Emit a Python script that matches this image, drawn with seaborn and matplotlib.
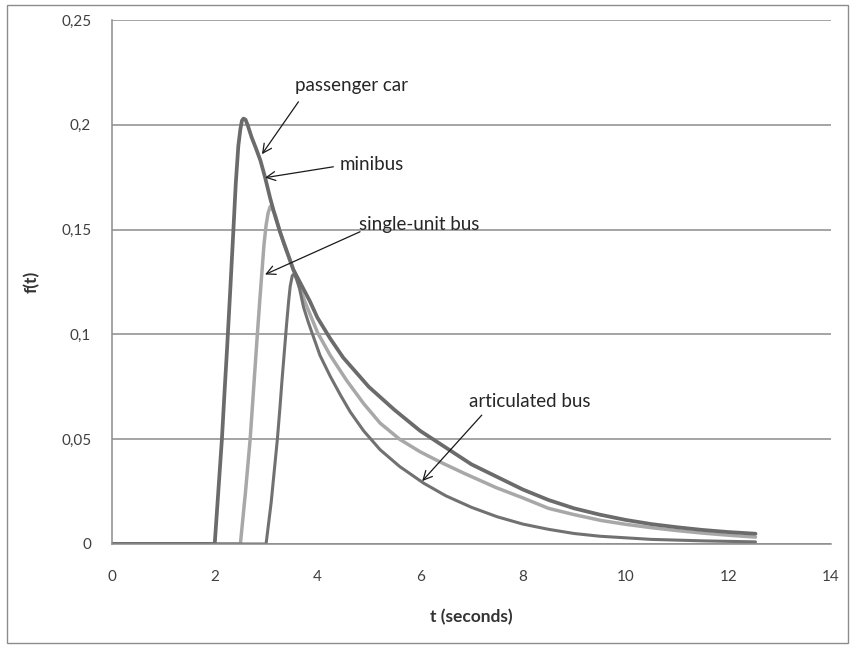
import numpy as np
import pandas as pd
import seaborn as sns
import matplotlib.pyplot as plt
from matplotlib.patches import Rectangle

# Datos (t en segundos, f(t))
t_car = [0, 2.0, 2.07, 2.14, 2.19, 2.24, 2.30, 2.36, 2.41, 2.46, 2.50, 2.53, 2.56, 2.60, 2.64,
         2.68, 2.72, 2.80, 2.89, 2.98, 3.08, 3.17, 3.27, 3.40, 3.53, 3.70, 3.85, 4.0, 4.25,
         4.5, 4.75, 5.0, 5.5, 6.0, 6.5, 7.0, 7.5, 8.0, 8.5, 9.0, 9.5, 10.0, 10.5, 11.0,
         11.5, 12.0, 12.53]
f_car = [0, 0, 0.025, 0.05, 0.072, 0.093, 0.12, 0.148, 0.172, 0.190, 0.198, 0.202, 0.203, 0.2025, 0.200,
         0.197, 0.194, 0.189, 0.183, 0.175, 0.165, 0.157, 0.149, 0.140, 0.131, 0.123, 0.116, 0.108, 0.098,
         0.089, 0.082, 0.075, 0.064, 0.054, 0.046, 0.038, 0.032, 0.026, 0.021, 0.017, 0.014, 0.0115, 0.0095, 0.008,
         0.0067, 0.0057, 0.0049]

t_single = [0, 2.5, 2.6, 2.69, 2.76, 2.83, 2.88, 2.92, 2.96, 3.0, 3.04, 3.08, 3.12, 3.18, 3.26,
            3.35, 3.44, 3.53, 3.75, 4.0, 4.25, 4.57, 4.9, 5.22, 5.6, 6.0, 6.4, 6.85, 7.48,
            8.0, 8.5, 9.0, 9.53, 10.0, 10.5, 11.0, 11.5, 12.0, 12.53]
f_single = [0, 0, 0.025, 0.05, 0.075, 0.1, 0.117, 0.13, 0.143, 0.152, 0.158, 0.161, 0.160, 0.157, 0.150,
            0.143, 0.137, 0.131, 0.116, 0.101, 0.090, 0.078, 0.067, 0.0577, 0.050, 0.044, 0.039, 0.0338, 0.0269,
            0.022, 0.017, 0.014, 0.0112, 0.0094, 0.0078, 0.0064, 0.0052, 0.0042, 0.0033]

t_artic = [0, 3.0, 3.1, 3.16, 3.22, 3.27, 3.31, 3.36, 3.40, 3.44, 3.47, 3.51, 3.55, 3.60, 3.65,
           3.73, 3.82, 3.92, 4.05, 4.25, 4.45, 4.64, 4.9, 5.22, 5.6, 6.07, 6.5, 7.0, 7.5,
           8.0, 8.5, 9.0, 9.5, 10.5, 11.5, 12.53]
f_artic = [0, 0, 0.02, 0.035, 0.05, 0.065, 0.078, 0.093, 0.105, 0.116, 0.123, 0.128, 0.129, 0.126, 0.122,
           0.113, 0.106, 0.099, 0.090, 0.080, 0.071, 0.063, 0.054, 0.045, 0.037, 0.029, 0.023, 0.0175, 0.013,
           0.0095, 0.007, 0.005, 0.0037, 0.0022, 0.0015, 0.001]

yticks = [0, 0.05, 0.1, 0.15, 0.2, 0.25]
ytick_labels = ['0', '0,05', '0,1', '0,15', '0,2', '0,25']
xticks = [0, 2, 4, 6, 8, 10, 12, 14]

# etiquetas: texto, posicion del texto, punta de la flecha, inicio de la flecha
notas = [
    ('passenger car', (3.57, 0.2186), (2.92, 0.186), (3.63, 0.211)),
    ('minibus', (4.44, 0.181), (2.98, 0.1748), (4.31, 0.180)),
    ('single-unit bus', (4.80, 0.1525), (2.98, 0.1286), (4.83, 0.149)),
    ('articulated bus', (6.96, 0.0678), (6.04, 0.030), (7.2, 0.0615)),
]

sns.set_style('white')
plt.rcParams['font.family'] = ['Lato', 'DejaVu Sans']

fig = plt.figure(figsize=(8.53, 6.48), dpi=100)
ax = fig.add_axes([0.1313, 0.1605, 0.8429, 0.8085])

series = [
    (t_single, f_single, '#a8a8a8', 2.5),
    (t_artic, f_artic, '#717171', 2.2),
    (t_car, f_car, '#6b6b6b', 2.7),
]
for t, f, color, lw in series:
    sns.lineplot(ax=ax, x=t, y=f, color=color, linewidth=lw, sort=False,
                 solid_capstyle='round', solid_joinstyle='round')

ax.set_xlim(0, 14)
ax.set_ylim(0, 0.25)
ax.set_xticks(xticks)
ax.set_yticks(yticks)
ax.set_yticklabels(ytick_labels)
ax.yaxis.grid(True, color='#8c8c8c', linewidth=1.1)
ax.xaxis.grid(False)
ax.set_axisbelow(True)
for s in ['top', 'right']:
    ax.spines[s].set_visible(False)
for s in ['left', 'bottom']:
    ax.spines[s].set_color('#8c8c8c')
    ax.spines[s].set_linewidth(1.1)
ax.tick_params(axis='both', direction='out', length=5, width=1, color='#8c8c8c',
               labelsize=11, labelcolor='#404040')
ax.tick_params(axis='x', pad=14)
ax.tick_params(axis='y', pad=10)

ax.set_xlabel('t (seconds)', fontsize=12.5, fontweight='bold', color='#333333')
ax.set_ylabel('f(t)', fontsize=12.5, fontweight='bold', color='#333333')
ax.xaxis.set_label_coords(0.5, -0.124)
ax.yaxis.set_label_coords(-0.100, 0.5)

for texto, pos, tip, start in notas:
    ax.text(pos[0], pos[1], texto, fontsize=13.5, color='#262626', ha='left', va='center')
    ax.annotate('', xy=tip, xytext=start,
                arrowprops=dict(arrowstyle='->', color='#1a1a1a', lw=0.9,
                                mutation_scale=16, shrinkA=0, shrinkB=0))

# borde exterior del grafico
fig.add_artist(Rectangle((0.008, 0.008), 0.986, 0.985, transform=fig.transFigure,
                         fill=False, edgecolor='#8c8c8c', linewidth=1))

fig.savefig('out.png', dpi=100)
